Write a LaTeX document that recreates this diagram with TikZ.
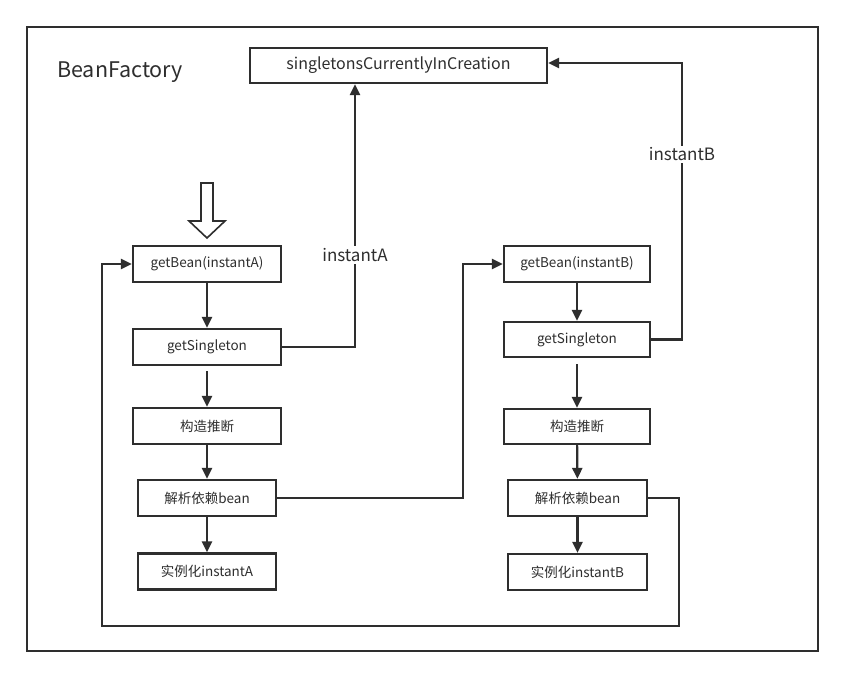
\documentclass[tikz,border=0pt]{standalone}
\usepackage{fontspec}
\setmainfont{Noto Sans CJK SC}
\usetikzlibrary{arrows.meta}
\definecolor{ink}{HTML}{2E2E2E}
\begin{document}
\begin{tikzpicture}[x=1pt,y=-1pt,
  box/.style={draw=ink,line width=2.2pt,fill=white,minimum height=36pt,inner sep=0pt,font=\fontsize{13.5}{16}\selectfont,text=ink},
  arr/.style={draw=ink,line width=2.2pt,-{Triangle[length=11pt,width=10pt]}},
  lab/.style={fill=white,inner sep=2pt,font=\fontsize{17}{20}\selectfont,text=ink}]
\useasboundingbox (0,0) rectangle (845,679);
\fill[white] (0,0) rectangle (845,679);
\draw[ink,line width=2pt] (27,27) rectangle (818,651);
\node[font=\fontsize{21.5}{25}\selectfont,text=ink,anchor=west,inner sep=0pt] (bf) at (57,72) {BeanFactory};
\node[box,minimum width=297pt,minimum height=35pt,font=\fontsize{16}{19}\selectfont] (sic) at (398.5,65.5) {singletonsCurrentlyInCreation};
% column A
\node[box,minimum width=148pt] (gA) at (207,264) {getBean(instantA)};
\node[box,minimum width=148pt] (sA) at (207,347) {getSingleton};
\node[box,minimum width=148pt] (cA) at (207,426) {构造推断};
\node[box,minimum width=138pt] (jA) at (207,498) {解析依赖bean};
\node[box,minimum width=138pt] (iA) at (207,571.5) {实例化instantA};
% column B
\node[box,minimum width=146pt] (gB) at (577,264) {getBean(instantB)};
\node[box,minimum width=146pt,minimum height=35pt] (sB) at (577,339.5) {getSingleton};
\node[box,minimum width=146pt,minimum height=35pt] (cB) at (577,426.5) {构造推断};
\node[box,minimum width=139pt] (jB) at (577.5,498) {解析依赖bean};
\node[box,minimum width=139pt] (iB) at (577.5,572) {实例化instantB};
% hollow entry arrow
\draw[ink,line width=1.6pt,fill=white,line join=miter] (201,183) -- (213,183) -- (213,221) -- (225,221) -- (207,238) -- (189,221) -- (201,221) -- cycle;
% vertical flow
\draw[arr] (gA) -- (sA);
\draw[arr,shorten <=5pt] (sA) -- (cA);
\draw[arr] (cA) -- (jA);
\draw[arr] (jA) -- (iA);
\draw[arr] (gB) -- (sB);
\draw[arr,shorten <=6pt] (sB) -- (cB);
\draw[arr] (cB) -- (jB);
\draw[arr] (jB) -- (iB);
% links
\coordinate (kA) at (355,347);
\draw[arr] (sA.east) -- (kA) -- node[lab,pos=0.35]{instantA} (kA |- sic.south);
\coordinate (kB) at (682,339.5);
\coordinate (kB2) at (682,63);
\draw[arr] (sB.east) -- (kB) -- node[lab,pos=0.67]{instantB} (kB2) -- (kB2 -| sic.east);
\coordinate (kC) at (463,498);
\draw[arr] (jA.east) -- (kC) |- (gB.west);
\coordinate (loopR) at (679,626);
\coordinate (loopL) at (102,626);
\draw[arr] (jB.east) -| (loopR) -- (loopL) |- (gA.west);
\end{tikzpicture}
\end{document}
